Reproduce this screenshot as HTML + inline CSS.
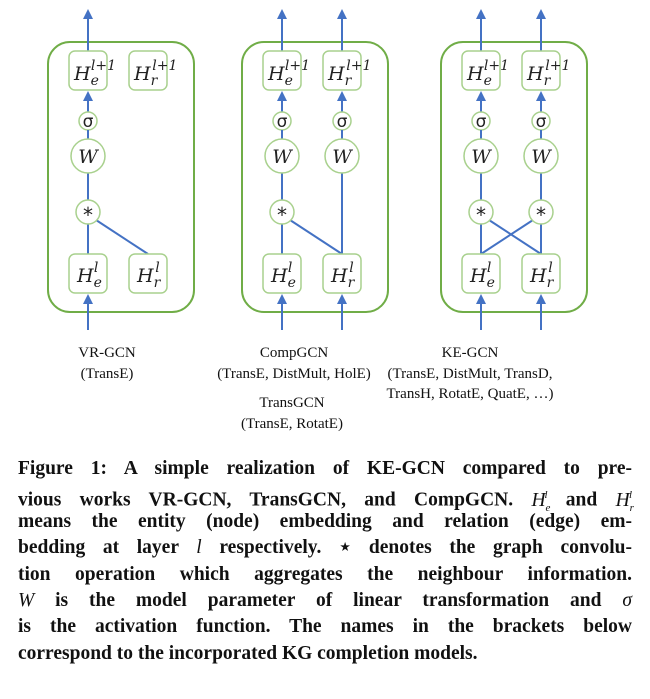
<!DOCTYPE html>
<html><head><meta charset="utf-8"><style>
body{margin:0;width:650px;height:699px;background:#fff;overflow:hidden;position:relative}
svg{position:absolute;left:0;top:0}
.m{font-family:"DejaVu Serif","Liberation Serif",serif;font-style:italic;font-size:19px;fill:#222}
.sup{font-size:14px;font-style:italic}
.lab{font-family:"Liberation Serif",serif;font-size:15px;fill:#111;text-anchor:middle}
#cap{position:absolute;left:18px;top:456px;width:614px;font-family:"Liberation Serif",serif;font-weight:bold;font-size:19.5px;line-height:26.4px;color:#111}
#cap div{text-align:justify;text-align-last:justify;height:26.4px;overflow:visible}
#cap div.l{text-align-last:left}
#cap i{font-weight:normal}
</style></head><body>
<svg width="650" height="699" viewBox="0 0 650 699">
<defs>
<marker id="a" markerWidth="10" markerHeight="10" refX="5" refY="5" orient="auto" markerUnits="userSpaceOnUse"><path d="M0,0 L10,5 L0,10 z" fill="#4472c4"/></marker>
<g id="col">
<line x1="0" y1="51" x2="0" y2="14" stroke="#4472c4" stroke-width="2" marker-end="url(#a)"/>
<rect x="-19" y="51" width="38" height="39" rx="6" fill="#fff" stroke="#a9d18e" stroke-width="1.5"/>
<line x1="0" y1="112" x2="0" y2="96" stroke="#4472c4" stroke-width="2" marker-end="url(#a)"/>
<circle cx="0" cy="121" r="9" fill="#fff" stroke="#a9d18e" stroke-width="1.5"/>
<text x="0" y="127" text-anchor="middle" font-family="DejaVu Sans,sans-serif" font-size="17" fill="#222">σ</text>
<line x1="0" y1="130" x2="0" y2="139" stroke="#4472c4" stroke-width="2"/>
<circle cx="0" cy="156" r="17" fill="#fff" stroke="#a9d18e" stroke-width="1.5"/>
<text x="0" y="163" text-anchor="middle" class="m">W</text>
<rect x="-19" y="254" width="38" height="39" rx="6" fill="#fff" stroke="#a9d18e" stroke-width="1.5"/>
<line x1="0" y1="330" x2="0" y2="299" stroke="#4472c4" stroke-width="2" marker-end="url(#a)"/>
</g>
<g id="star">
<circle cx="0" cy="212" r="12" fill="#fff" stroke="#a9d18e" stroke-width="1.5"/>
<text x="0" y="222" text-anchor="middle" font-family="DejaVu Sans,sans-serif" font-size="20" fill="#222">*</text>
</g>
<g id="panel">
<rect x="48" y="42" width="146" height="270" rx="22" fill="none" stroke="#70ad47" stroke-width="2"/>
</g>
</defs>

<use href="#panel"/>
<line x1="88" y1="173" x2="88" y2="254" stroke="#4472c4" stroke-width="2"/>
<line x1="96" y1="220" x2="148" y2="254" stroke="#4472c4" stroke-width="2"/>
<g transform="translate(88,0)"><use href="#col"/><use href="#star"/></g>
<g transform="translate(148,0)">
<rect x="-19" y="51" width="38" height="39" rx="6" fill="#fff" stroke="#a9d18e" stroke-width="1.5"/>
<rect x="-19" y="254" width="38" height="39" rx="6" fill="#fff" stroke="#a9d18e" stroke-width="1.5"/>
</g>

<g transform="translate(194,0)">
<use href="#panel"/>
<line x1="88" y1="173" x2="88" y2="254" stroke="#4472c4" stroke-width="2"/>
<line x1="148" y1="173" x2="148" y2="254" stroke="#4472c4" stroke-width="2"/>
<line x1="96" y1="220" x2="148" y2="254" stroke="#4472c4" stroke-width="2"/>
<g transform="translate(88,0)"><use href="#col"/><use href="#star"/></g>
<g transform="translate(148,0)"><use href="#col"/></g>
</g>

<g transform="translate(393,0)">
<use href="#panel"/>
<line x1="88" y1="173" x2="88" y2="254" stroke="#4472c4" stroke-width="2"/>
<line x1="148" y1="173" x2="148" y2="254" stroke="#4472c4" stroke-width="2"/>
<line x1="96" y1="220" x2="148" y2="254" stroke="#4472c4" stroke-width="2"/>
<line x1="140" y1="220" x2="88" y2="254" stroke="#4472c4" stroke-width="2"/>
<g transform="translate(88,0)"><use href="#col"/><use href="#star"/></g>
<g transform="translate(148,0)"><use href="#col"/><use href="#star"/></g>
</g>

<g class="m">
<text x="74" y="80">H<tspan class="sup" dy="5">e</tspan><tspan class="sup" dx="-8" dy="-15">l+1</tspan></text>
<text x="134" y="80">H<tspan class="sup" dy="5">r</tspan><tspan class="sup" dx="-5" dy="-15">l+1</tspan></text>
<text x="77" y="282">H<tspan class="sup" dy="5">e</tspan><tspan class="sup" dx="-8" dy="-15">l</tspan></text>
<text x="137" y="282">H<tspan class="sup" dy="5">r</tspan><tspan class="sup" dx="-5" dy="-15">l</tspan></text>

<text x="268" y="80">H<tspan class="sup" dy="5">e</tspan><tspan class="sup" dx="-8" dy="-15">l+1</tspan></text>
<text x="328" y="80">H<tspan class="sup" dy="5">r</tspan><tspan class="sup" dx="-5" dy="-15">l+1</tspan></text>
<text x="271" y="282">H<tspan class="sup" dy="5">e</tspan><tspan class="sup" dx="-8" dy="-15">l</tspan></text>
<text x="331" y="282">H<tspan class="sup" dy="5">r</tspan><tspan class="sup" dx="-5" dy="-15">l</tspan></text>

<text x="467" y="80">H<tspan class="sup" dy="5">e</tspan><tspan class="sup" dx="-8" dy="-15">l+1</tspan></text>
<text x="527" y="80">H<tspan class="sup" dy="5">r</tspan><tspan class="sup" dx="-5" dy="-15">l+1</tspan></text>
<text x="470" y="282">H<tspan class="sup" dy="5">e</tspan><tspan class="sup" dx="-8" dy="-15">l</tspan></text>
<text x="530" y="282">H<tspan class="sup" dy="5">r</tspan><tspan class="sup" dx="-5" dy="-15">l</tspan></text>
</g>

<text class="lab" x="107" y="357">VR-GCN</text>
<text class="lab" x="107" y="378">(TransE)</text>
<text class="lab" x="294" y="357">CompGCN</text>
<text class="lab" x="294" y="378">(TransE, DistMult, HolE)</text>
<text class="lab" x="292" y="407">TransGCN</text>
<text class="lab" x="292" y="428">(TransE, RotatE)</text>
<text class="lab" x="470" y="357">KE-GCN</text>
<text class="lab" x="470" y="378">(TransE, DistMult, TransD,</text>
<text class="lab" x="470" y="398">TransH, RotatE, QuatE, …)</text>
</svg>
<div id="cap">
<div>Figure 1: A simple realization of KE-GCN compared to pre-</div>
<div>vious works VR-GCN, TransGCN, and CompGCN. <i>H<sub style="font-size:11px">e</sub><sup style="font-size:11px;margin-left:-6px">l</sup></i> and <i>H<sub style="font-size:11px">r</sub><sup style="font-size:11px;margin-left:-5px">l</sup></i></div>
<div>means the entity (node) embedding and relation (edge) em-</div>
<div>bedding at layer <i>l</i> respectively. ⋆ denotes the graph convolu-</div>
<div>tion operation which aggregates the neighbour information.</div>
<div><i>W</i> is the model parameter of linear transformation and <i>σ</i></div>
<div>is the activation function. The names in the brackets below</div>
<div class="l">correspond to the incorporated KG completion models.</div>
</div>
</body></html>
